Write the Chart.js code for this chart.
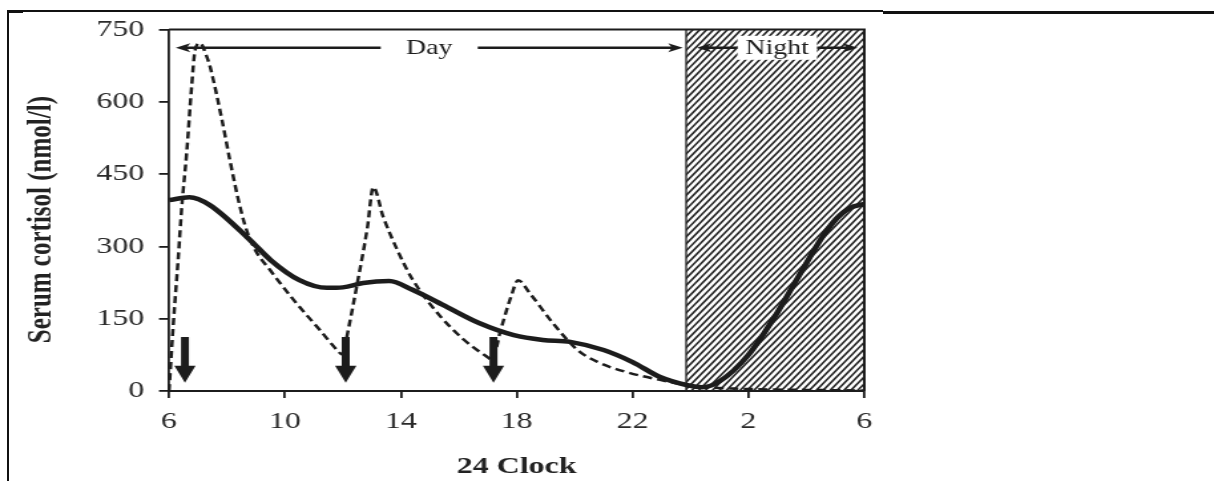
<!DOCTYPE html>
<html>
<head>
<meta charset="utf-8">
<script src="https://cdn.jsdelivr.net/npm/chart.js@4.4.0/dist/chart.umd.min.js"></script>
<style>
html, body { margin: 0; padding: 0; background: #fff; }
body { width: 1214px; height: 481px; position: relative; overflow: hidden; }
/* the reference figure is stretched horizontally, so the chart is drawn narrow and scaled */
#wrap { position: absolute; left: 0; top: 0; width: 913px; height: 481px; transform: scaleX(1.3297); transform-origin: 0 0; }
.rule { position: absolute; background: #111; }
</style>
</head>
<body>
<div id="wrap"><canvas id="cortisolChart"></canvas></div>
<div class="rule" style="left:7px;top:10px;width:2px;height:471px"></div>
<div class="rule" style="left:7px;top:10px;width:876px;height:1.5px"></div>
<div class="rule" style="left:7px;top:10px;width:16px;height:2.5px"></div>
<div class="rule" style="left:883px;top:10.5px;width:331px;height:3px"></div>
<script>
"use strict"

const SX = 1.3297

// x ticks (hours, 6 = 06:00, 30 = 06:00 next day)
const xTickValues = [6, 10, 14, 18, 22, 26, 30]
const xTickLabels = ["6", "10", "14", "18", "22", "2", "6"]

// solid line: physiological cortisol profile
const solidHours = [6.0, 6.7, 7.4, 8.8, 9.5, 10.5, 11.45, 12.0, 12.7, 13.6, 14.4, 15.6, 16.7, 17.9, 18.9, 19.85, 21.0, 22.0, 22.95, 23.9, 24.4, 25.0, 26.0, 27.0, 27.5, 28.0, 28.5, 29.0, 29.5, 30.0]
const solidValues = [396, 402, 386, 313, 272, 230, 214, 215, 224, 228, 210, 174, 141, 116, 106, 102, 85, 60, 29, 12, 8, 20, 75, 163, 214, 265, 315, 355, 380, 388]

// dashed line: cortisol after three oral doses
const dashedHours = [6.0, 6.15, 6.32, 6.44, 6.61, 6.78, 6.9, 7.07, 7.3, 7.42, 7.83, 8.1, 8.45, 8.7, 9.0, 9.5, 10.3, 11.2, 11.8, 12.0, 12.15, 12.5, 12.85, 13.05, 13.4, 13.9, 14.4, 15.35, 16.15, 16.95, 17.15, 17.45, 17.8, 18.05, 18.45, 19.25, 20.1, 20.8, 21.8, 22.95, 23.9, 24.5, 25.5, 27.0, 28.5, 30.0]
const dashedValues = [0, 141, 278, 382, 494, 631, 707, 722, 694, 672, 562, 479, 382, 330, 290, 250, 189, 127, 85, 75, 116, 224, 340, 423, 360, 290, 232, 156, 108, 72, 65, 127, 195, 230, 203, 141, 85, 60, 39, 23, 12, 8, 5, 3, 2, 1]

// dose times (arrows) and their extent on the y scale
const doseTimes = [6.55, 12.1, 17.2]
const doseTop = 112
const doseTip = 17

// day / night periods
const periodLabels = ["Day", "Night"]
const periodStart = [6, 23.85]
const periodEnd = [23.85, 30]
const periodArrowLevel = 712

const serif = '"Liberation Serif", "Times New Roman", serif'
const ink = '#1c1c1c'

function head(ctx, x, y, dir, len, half) {
    ctx.beginPath()
    ctx.moveTo(x, y)
    ctx.lineTo(x - dir * len, y - half)
    ctx.lineTo(x - dir * len * 0.75, y)
    ctx.lineTo(x - dir * len, y + half)
    ctx.closePath()
    ctx.fill()
}

const nightDayPlugin = {
    id: 'nightDay',
    beforeDatasetsDraw(chart) {
        const { ctx, chartArea: a, scales: { x } } = chart
        const nx = x.getPixelForValue(periodStart[1])
        // hatched night
        ctx.save()
        ctx.beginPath()
        ctx.rect(nx, a.top, a.right - nx, a.bottom - a.top)
        ctx.clip()
        ctx.strokeStyle = '#222'
        ctx.lineWidth = 1.6
        const dx = (a.bottom - a.top) / SX
        for (let k = nx - dx; k < a.right + 2; k += 5.2) {
            ctx.beginPath()
            ctx.moveTo(k, a.bottom)
            ctx.lineTo(k + dx, a.top)
            ctx.stroke()
        }
        ctx.restore()
        // night edge + top/right frame
        ctx.save()
        ctx.strokeStyle = ink
        ctx.lineWidth = 1.3
        ctx.beginPath()
        ctx.moveTo(nx, a.top)
        ctx.lineTo(nx, a.bottom)
        ctx.stroke()
        ctx.lineWidth = 2
        ctx.beginPath()
        ctx.moveTo(a.left, a.top)
        ctx.lineTo(a.right, a.top)
        ctx.lineTo(a.right, a.bottom)
        ctx.stroke()
        ctx.restore()
    },
    afterDatasetsDraw(chart) {
        const { ctx, scales: { x, y } } = chart
        ctx.save()
        ctx.fillStyle = ink
        ctx.strokeStyle = ink
        // dose arrows
        const yTop = y.getPixelForValue(doseTop)
        const yTip = y.getPixelForValue(doseTip)
        doseTimes.forEach(t => {
            const px = x.getPixelForValue(t)
            ctx.fillRect(px - 3, yTop, 6, yTip - yTop - 16)
            ctx.beginPath()
            ctx.moveTo(px - 8, yTip - 17)
            ctx.lineTo(px + 8, yTip - 17)
            ctx.lineTo(px, yTip)
            ctx.closePath()
            ctx.fill()
        })
        // day / night labels with double arrows
        const yA = y.getPixelForValue(periodArrowLevel)
        const insetL = [5, 8], insetR = [2.5, 5], gap = [19, 6]
        ctx.font = '21px ' + serif
        ctx.textAlign = 'center'
        ctx.textBaseline = 'middle'
        ctx.lineWidth = 2.5
        periodLabels.forEach((lab, i) => {
            const x0 = x.getPixelForValue(periodStart[i]) + insetL[i]
            const x1 = x.getPixelForValue(periodEnd[i]) - insetR[i]
            const cx = (x0 + x1) / 2
            const tw = ctx.measureText(lab).width
            ctx.fillStyle = '#fff'
            ctx.fillRect(cx - tw / 2 - gap[i], yA - 12, tw + 2 * gap[i], 24)
            ctx.fillStyle = ink
            ctx.fillText(lab, cx, yA + 1)
            ctx.beginPath()
            ctx.moveTo(x0 + 6, yA)
            ctx.lineTo(cx - tw / 2 - gap[i], yA)
            ctx.moveTo(cx + tw / 2 + gap[i], yA)
            ctx.lineTo(x1 - 6, yA)
            ctx.stroke()
            head(ctx, x0, yA, -1, 11, 4.5)
            head(ctx, x1, yA, 1, 11, 4.5)
        })
        ctx.restore()
    }
}

const ctx = document.getElementById('cortisolChart')
new Chart(ctx, {
    type: 'line',
    data: {
        datasets: [{
            label: 'Normal',
            data: solidHours.map((h, i) => ({ x: h, y: solidValues[i] })),
            borderColor: ink,
            borderWidth: 4.5,
            pointRadius: 0,
            cubicInterpolationMode: 'monotone',
            fill: false
        },
        {
            label: 'Oral dosing',
            data: dashedHours.map((h, i) => ({ x: h, y: dashedValues[i] })),
            borderColor: ink,
            borderWidth: 2.5,
            borderDash: [7, 4],
            pointRadius: 0,
            cubicInterpolationMode: 'monotone',
            fill: false
        }]
    },
    options: {
        responsive: true,
        maintainAspectRatio: false,
        animation: false,
        layout: { padding: { top: 29.5, right: 263, left: 0, bottom: 0 } },
        plugins: {
            legend: { display: false },
            tooltip: { enabled: false }
        },
        scales: {
            x: {
                type: 'linear',
                min: 6,
                max: 30,
                afterBuildTicks: s => { s.ticks = xTickValues.map(v => ({ value: v })) },
                afterFit: s => { s.height = 90 },
                ticks: {
                    autoSkip: false,
                    maxRotation: 0,
                    padding: 9,
                    color: '#2a2a2a',
                    font: { family: serif, size: 24 },
                    callback: (v, i) => xTickLabels[i]
                },
                grid: { drawOnChartArea: false, drawTicks: true, tickLength: 7, color: ink, lineWidth: 1.8 },
                border: { color: ink, width: 2 },
                title: {
                    display: true,
                    text: '24 Clock',
                    color: '#222',
                    padding: 0,
                    font: { family: serif, size: 24, weight: 'bold' }
                }
            },
            y: {
                min: 0,
                max: 750,
                afterFit: s => { s.width = 127.1 },
                ticks: {
                    stepSize: 150,
                    padding: 11,
                    color: '#2a2a2a',
                    font: { family: serif, size: 24 }
                },
                grid: { drawOnChartArea: false, drawTicks: true, tickLength: 7.5, color: ink, lineWidth: 1.8 },
                border: { color: ink, width: 1.8 },
                title: {
                    display: true,
                    text: 'Serum cortisol (nmol/l)   ',
                    color: '#222',
                    padding: { top: 16.6, bottom: 0 },
                    font: { family: serif, size: 25, weight: 'bold' }
                }
            }
        }
    },
    plugins: [nightDayPlugin]
})
</script>
</body>
</html>
